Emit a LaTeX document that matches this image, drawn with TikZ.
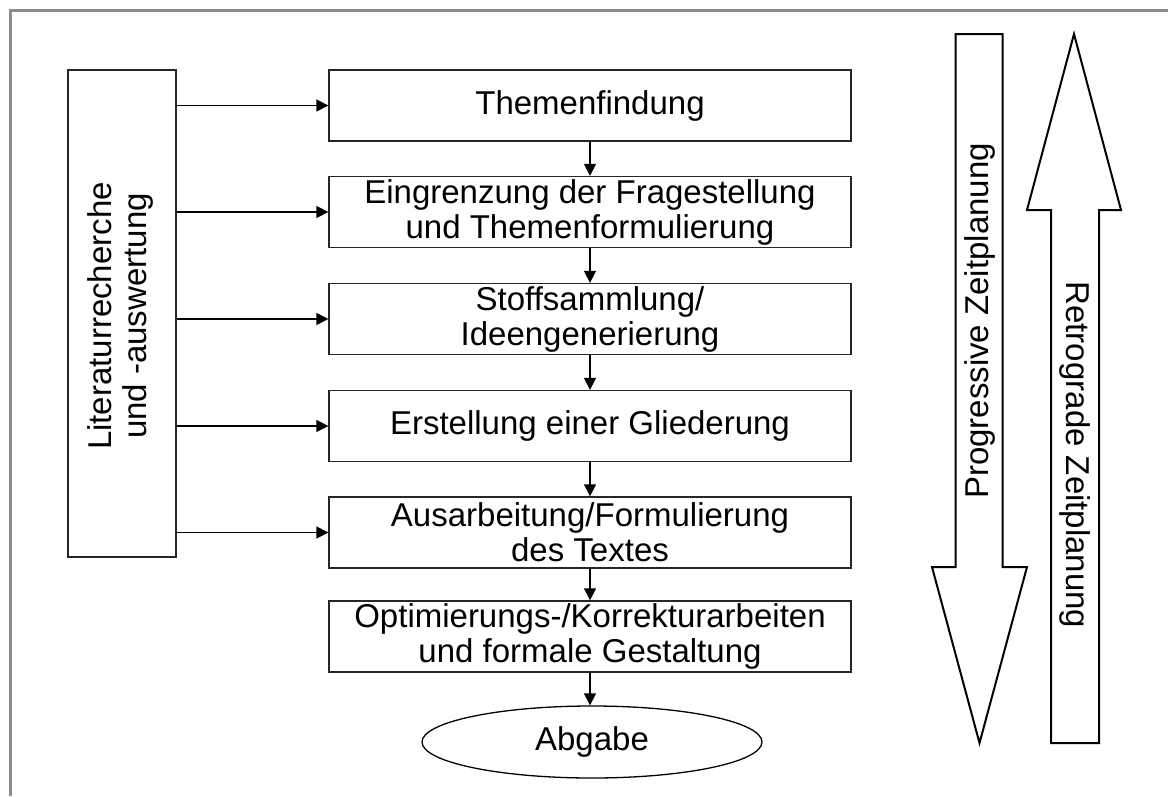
\documentclass[tikz,border=0pt]{standalone}
\usepackage{fontspec}
\setmainfont{Liberation Sans}
\usetikzlibrary{arrows.meta,shapes.geometric}
\begin{document}
\begin{tikzpicture}[x=1pt,y=-1pt,
  every node/.style={font=\fontsize{33}{35}\selectfont, inner sep=0pt},
  stepbox/.style={draw=black!85, line width=1.3pt, minimum width=522pt, minimum height=71pt, align=center},
  sidebox/.style={draw=black!85, line width=1.3pt, minimum width=108pt, minimum height=487pt},
  flow/.style={draw=black, line width=1.3pt, -{Triangle[length=12pt,width=12pt]}},
  bigarrow/.style={draw=black, line width=2pt, line join=miter, fill=white},
  frame/.style={draw=black!45, line width=3pt}
]
\useasboundingbox (0,0) rectangle (1168,796);
\fill[white] (0,0) rectangle (1168,796);
% frame (top and left lines)
\draw[frame] (10,796) -- (10,10) -- (1168,10);

% left box
\node[sidebox] (lit) at (122,313.5) {};
\node[rotate=90, align=center] (littext) at (120,316) {Literaturrecherche\\und -auswertung};

% main steps
\node[stepbox] (s1) at (590,105.5) {Themenfindung};
\node[stepbox] (s2) at (590,212) {Eingrenzung der Fragestellung\\und Themenformulierung};
\node[stepbox] (s3) at (590,319) {Stoffsammlung/\\Ideengenerierung};
\node[stepbox] (s4) at (590,426) {Erstellung einer Gliederung};
\node[stepbox] (s5) at (590,532.5) {Ausarbeitung/Formulierung\\des Textes};
\node[stepbox] (s6) at (590,636.5) {Optimierungs-/Korrekturarbeiten\\und formale Gestaltung};
\node[draw=black, line width=1.3pt, ellipse, minimum width=340pt, minimum height=72pt] (ab) at (592,742) {Abgabe};

% vertical connectors
\draw[flow] (s1.south) -- (s2.north);
\draw[flow] (s2.south) -- (s3.north);
\draw[flow] (s3.south) -- (s4.north);
\draw[flow] (s4.south) -- (s5.north);
\draw[flow] (s5.south) -- (s6.north);
\draw[flow] (s6.south) -- (s6.south |- ab.north);

% horizontal connectors
\foreach \s in {s1,s2,s3,s4,s5}{
  \draw[flow] (lit.east |- \s.west) -- (\s.west);
}

% progressive (down) arrow
\draw[bigarrow] (955.5,34) -- (1002.5,34) -- (1002.5,567) -- (1027,567) -- (979.5,743)
  -- (932,567) -- (955.5,567) -- cycle;
\node[rotate=90] (prog) at (980,321) {Progressive Zeitplanung};

% retrograde (up) arrow
\draw[bigarrow] (1051,743) -- (1099,743) -- (1099,210) -- (1121,210) -- (1074,34)
  -- (1027,210) -- (1051,210) -- cycle;
\node[rotate=-90] (retro) at (1075,455) {Retrograde Zeitplanung};
\end{tikzpicture}
\end{document}
